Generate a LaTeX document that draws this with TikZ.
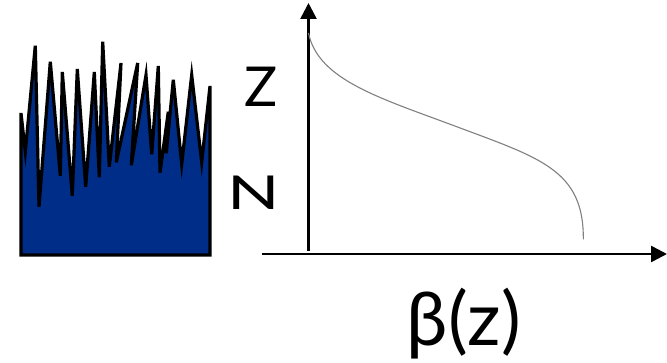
\documentclass[tikz,border=0pt]{standalone}
\usepackage{fontspec}
\setmainfont{Lato}
\usetikzlibrary{arrows.meta}
\definecolor{fillblue}{RGB}{0,45,135}
\tikzset{
  axis/.style={line width=2.6pt,-{Triangle[length=16pt,width=16pt]}},
  lbl/.style={inner sep=0pt,font=\fontsize{55}{60}\selectfont},
  jag/.style={line width=3.2pt,line join=miter,fill=fillblue,draw=black},
  curve/.style={draw=gray,line width=1.1pt}
}
\begin{document}
\begin{tikzpicture}[x=1pt,y=-1pt]
\useasboundingbox (0,0) rectangle (667,363);
% jagged filled shape
\draw[jag] (21,255) -- (21,113) -- (25.3,151.7) -- (35.3,45.7) -- (39,206.7) -- (50.3,61.7) -- (60.3,175.7) -- (62.3,72) -- (72.3,195.7) -- (77.3,69) -- (85.7,186.7) -- (94.3,72) -- (99.3,177.3) -- (102.7,41.7) -- (109.3,166.7) -- (121,63) -- (116.3,162.3) -- (137.7,63) -- (131.3,165.3) -- (146,75) -- (151.7,154.3) -- (158.3,66) -- (160,172.7) -- (168.3,111.7) -- (166.3,153.3) -- (173.3,79.7) -- (181.7,164) -- (191.7,75) -- (201.7,162.3) -- (210,86) -- (210,255) -- cycle;
% axes
\coordinate (ybot) at (308.5,251);
\coordinate (ytop) at (308.5,3);
\coordinate (xleft) at (262,254);
\coordinate (xright) at (667,254);
\draw[axis] (ybot) -- (ytop);
\draw[axis] (xleft) -- (xright);
% curve
\coordinate (c0) at (308.5,33);
\coordinate (c1) at (456.7,126.7);
\coordinate (c2) at (583.3,239.3);
\draw[curve] (c0) .. controls (318,80) and (380,98) .. (c1) .. controls (540,158) and (584,170) .. (c2);
% labels
\node[lbl] (zlab) at (261,87) {Z};
\node[lbl,xscale=1.25,yscale=0.85] (nlab) at (254,193) {N};
\node[inner sep=0pt,font=\fontsize{74}{80}\selectfont] (blab) at (464,324) {β(z)};
\end{tikzpicture}
\end{document}
